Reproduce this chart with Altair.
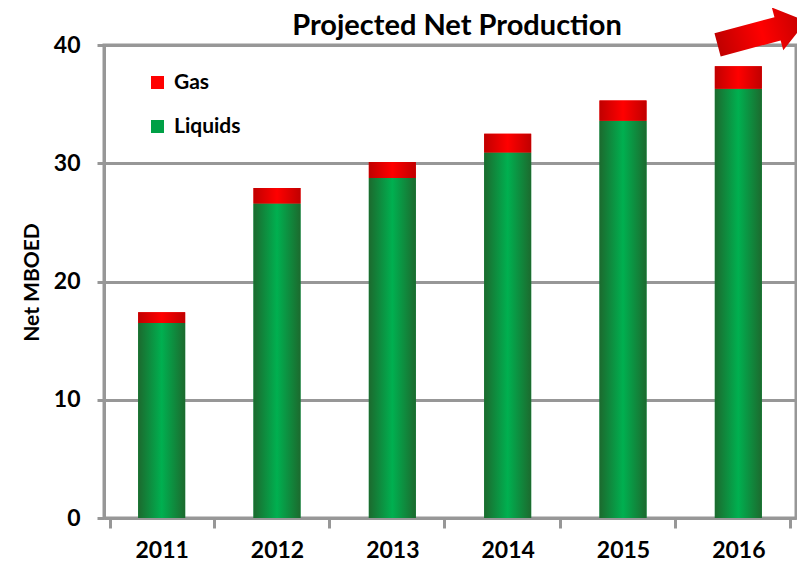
import altair as alt
import pandas as pd

years = ["2011", "2012", "2013", "2014", "2015", "2016"]
liquids = [16.5, 26.6, 28.75, 30.9, 33.6, 36.3]
gas = [0.9, 1.3, 1.35, 1.6, 1.7, 1.9]
series = ["Gas", "Liquids"]
series_colors = ["#ff0000", "#00a046"]
y_ticks = [0, 10, 20, 30, 40]

wide = pd.DataFrame({"year": years, "liquids": liquids, "gas": gas})
wide["total"] = wide["liquids"] + wide["gas"]

long = pd.DataFrame({
    "year": years * 2,
    "series": ["Liquids"] * len(years) + ["Gas"] * len(years),
    "value": liquids + gas,
    "order": [0] * len(years) + [1] * len(years),
})

FONT = "Lato"
GREY = "#979797"
BAR = 47

green_grad = alt.LinearGradient(
    gradient="linear", x1=0, x2=1, y1=0, y2=0,
    stops=[alt.GradientStop(color="#1c6a2e", offset=0),
           alt.GradientStop(color="#00b050", offset=0.5),
           alt.GradientStop(color="#1c6a2e", offset=1)])
red_grad = alt.LinearGradient(
    gradient="linear", x1=0, x2=1, y1=0, y2=0,
    stops=[alt.GradientStop(color="#c00000", offset=0),
           alt.GradientStop(color="#ff0000", offset=0.5),
           alt.GradientStop(color="#c00000", offset=1)])

x_enc = alt.X("year:N", title=None, axis=alt.Axis(
    labelAngle=0, labelFont=FONT, labelFontSize=23, labelFontWeight="bold",
    labelColor="black", labelPadding=11, tickBand="extent", tickSize=10,
    tickColor=GREY, tickWidth=3, domainColor=GREY, domainWidth=3))

y_axis = alt.Axis(
    values=y_ticks, grid=True, gridColor=GREY, gridWidth=3,
    tickSize=7, tickColor=GREY, tickWidth=3, domainColor=GREY, domainWidth=3,
    labelFont=FONT, labelFontSize=23, labelFontWeight="bold", labelColor="black",
    labelPadding=17, titleFont=FONT, titleFontSize=21, titleFontWeight="bold",
    titleColor="black", titleX=-72, titleY=237, titleAngle=270,
    titleAlign="center", titleBaseline="middle")
y_scale = alt.Scale(domain=[0, 40])

legend_layer = alt.Chart(long).mark_bar(size=BAR).encode(
    x=x_enc,
    y=alt.Y("value:Q", stack="zero", scale=y_scale, axis=y_axis, title="Net MBOED"),
    color=alt.Color("series:N", scale=alt.Scale(domain=series, range=series_colors),
                    legend=alt.Legend(
                        orient="none", legendX=43, legendY=27, title=None,
                        symbolType="square", symbolSize=169, symbolStrokeWidth=0,
                        labelFont=FONT, labelFontSize=21, labelFontWeight="bold",
                        labelColor="black", rowPadding=22, labelOffset=6, padding=0)),
    order=alt.Order("order:Q"),
)

liq_layer = alt.Chart(wide).mark_bar(size=BAR, color=green_grad).encode(
    x=alt.X("year:N"),
    y=alt.Y("liquids:Q", scale=y_scale, title="Net MBOED"),
)

gas_layer = alt.Chart(wide).mark_bar(size=BAR, color=red_grad).encode(
    x=alt.X("year:N"),
    y=alt.Y("liquids:Q", scale=y_scale, title="Net MBOED"),
    y2="total:Q",
)

arrow_path = "M-1,-0.26 L0.35,-0.26 L0.35,-0.48 L1,0 L0.35,0.48 L0.35,0.26 L-1,0.26 Z"
arrow = alt.Chart(pd.DataFrame({"k": [0]})).mark_point(
    shape=arrow_path, size=8464, angle=345, filled=True, fill=red_grad,
    opacity=1, strokeWidth=0,
).encode(x=alt.value(658), y=alt.value(-12))

chart = alt.layer(legend_layer, liq_layer, gas_layer, arrow).properties(
    width=692, height=473,
    autosize=alt.AutoSizeParams(type="none"),
    padding={"left": 96, "top": 37, "right": 1, "bottom": 45},
    title=alt.TitleParams("Projected Net Production", font=FONT, fontSize=29,
                          fontWeight="bold", color="black", anchor="middle",
                          dx=7, dy=43, offset=10),
).configure_view(stroke=GREY, strokeWidth=3)

chart.save("out.html", embed_options={"renderer": "svg", "actions": False})
